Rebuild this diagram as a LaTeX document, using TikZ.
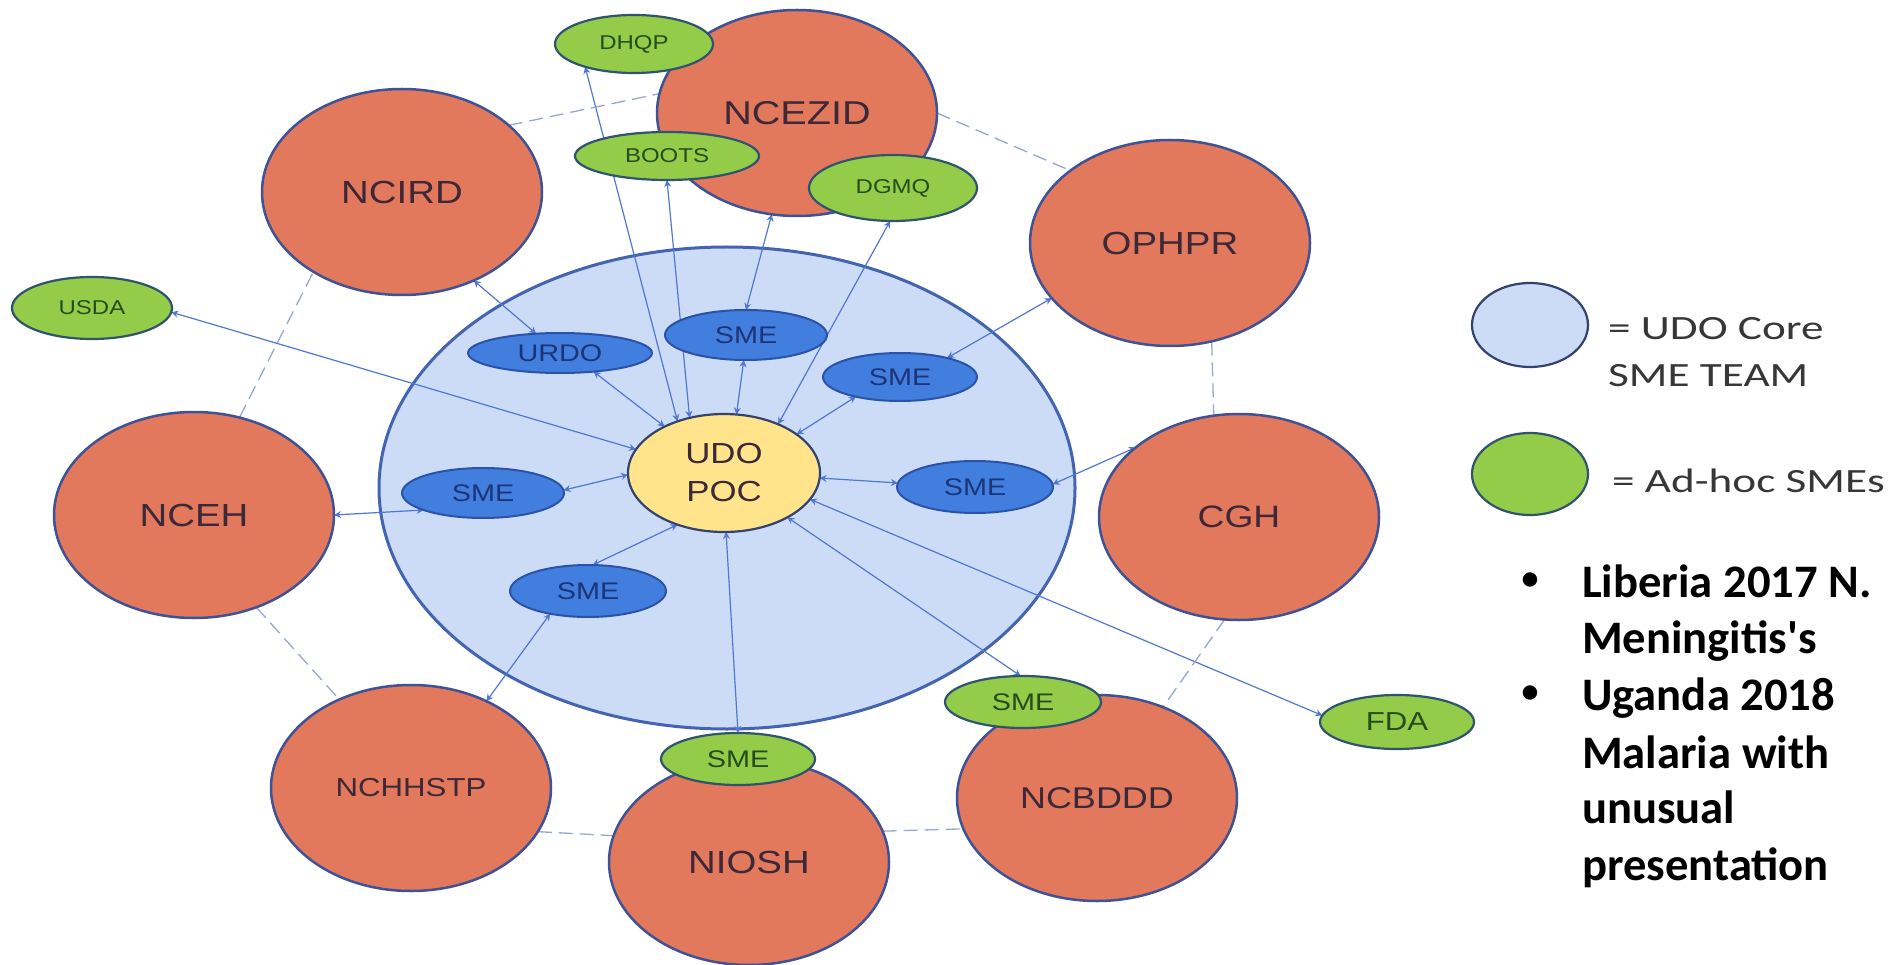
\documentclass[tikz,border=0pt]{standalone}
\usepackage{fontspec}
\setmainfont{Liberation Sans}
\newfontfamily\labf[FakeStretch=1.2]{Liberation Sans}
\newfontfamily\legf[FakeStretch=1.33]{Carlito}
\newfontfamily\bulf{Carlito}
\usetikzlibrary{shapes.geometric,arrows.meta}
\pgfdeclarelayer{bg}
\pgfdeclarelayer{edges}
\pgfsetlayers{bg,edges,main}
\definecolor{orangefill}{RGB}{226,121,92}
\definecolor{orangeline}{RGB}{64,82,150}
\definecolor{greenfill}{RGB}{146,204,72}
\definecolor{greenline}{RGB}{48,84,110}
\definecolor{smefill}{RGB}{66,126,222}
\definecolor{smeline}{RGB}{42,82,168}
\definecolor{corefill}{RGB}{204,220,246}
\definecolor{coreline}{RGB}{68,100,176}
\definecolor{pocfill}{RGB}{255,228,140}
\definecolor{pocline}{RGB}{52,66,110}
\definecolor{arrowc}{RGB}{80,120,210}
\definecolor{dashc}{RGB}{150,168,205}
\definecolor{orangetext}{RGB}{60,40,55}
\definecolor{smetext}{RGB}{28,52,120}
\definecolor{greentext}{RGB}{40,75,30}
\definecolor{legtext}{RGB}{55,55,55}
\newcommand\lsz[1]{\labf\fontsize{#1}{#1}\selectfont}
\tikzset{
  blob/.style={ellipse, inner sep=0pt, outer sep=0pt, align=center},
  center/.style={blob, fill=orangefill, draw=orangeline, line width=2.5pt,
    minimum width=280pt, minimum height=206pt, text=orangetext, font=\lsz{32}},
  adhoc/.style={blob, fill=greenfill, draw=greenline, line width=2.2pt,
    text=greentext, font=\lsz{20}},
  core/.style={blob, fill=smefill, draw=smeline, line width=2pt,
    text=smetext, font=\lsz{24}},
  conn/.style={draw=arrowc, line width=1.2pt,
    {Stealth[length=7pt,width=7pt]}-{Stealth[length=7pt,width=7pt]}},
  peer/.style={draw=dashc, line width=1.3pt, dash pattern=on 14pt off 7pt},
  legtxt/.style={inner sep=0pt, anchor=base west, text=legtext,
    font=\legf\fontsize{34}{38}\selectfont},
  bultxt/.style={inner sep=0pt, anchor=base west, text=black,
    font=\bulf\bfseries\fontsize{46.6}{56}\selectfont},
  bulmark/.style={inner sep=0pt, anchor=center, text=black,
    font=\bulf\bfseries\fontsize{34}{40}\selectfont},
}
\begin{document}
\begin{tikzpicture}[x=1pt,y=-1pt]
\useasboundingbox (0,0) rectangle (1898,965);
\begin{pgfonlayer}{bg}
\fill[white] (0,0) rectangle (1898,965);
\node[blob, fill=corefill, draw=coreline, line width=3pt,
  minimum width=696pt, minimum height=482pt] (core) at (727,488) {};
\end{pgfonlayer}

% centers
\node[center] (ncird) at (402,192) {NCIRD};
\node[center, font=\lsz{33}] (ncezid) at (797,113) {NCEZID};
\node[center] (ophpr) at (1170,243) {OPHPR};
\node[center, font=\lsz{31}] (cgh) at (1239,517) {CGH};
\node[center] (nceh) at (194,515) {NCEH};
\node[center, font=\lsz{26}] (nchhstp) at (411,788) {NCHHSTP};
\node[center] (niosh) at (749,862) {NIOSH};
\node[center, font=\lsz{30}] (ncbddd) at (1097,798) {NCBDDD};

% ad-hoc SMEs
\node[adhoc, minimum width=158pt, minimum height=58pt] (dhqp) at (634,44) {DHQP};
\node[adhoc, minimum width=184pt, minimum height=48pt] (boots) at (667,156) {BOOTS};
\node[adhoc, minimum width=168pt, minimum height=66pt] (dgmq) at (893,188) {DGMQ};
\node[adhoc, minimum width=160pt, minimum height=62pt] (usda) at (92,308) {USDA};
\node[adhoc, minimum width=154pt, minimum height=54pt, font=\lsz{26}] (fda) at (1397,722) {FDA};
\node[adhoc, minimum width=154pt, minimum height=52pt, font=\lsz{24}] (smeg1) at (738,759) {SME};
\node[adhoc, minimum width=156pt, minimum height=52pt, font=\lsz{24}] (smeg2) at (1023,702) {SME};

% core team
\node[core, minimum width=184pt, minimum height=40pt] (urdo) at (560,353) {URDO};
\node[core, minimum width=162pt, minimum height=50pt] (sme1) at (746,335) {SME};
\node[core, minimum width=154pt, minimum height=48pt] (sme2) at (900,377) {SME};
\node[core, minimum width=156pt, minimum height=52pt] (sme3) at (975,487) {SME};
\node[core, minimum width=162pt, minimum height=50pt] (sme4) at (483,493) {SME};
\node[core, minimum width=156pt, minimum height=52pt] (sme5) at (588,591) {SME};
\node[blob, fill=pocfill, draw=pocline, line width=2.2pt, minimum width=192pt,
  minimum height=118pt, text=orangetext, font=\labf\fontsize{29}{38}\selectfont]
  (udo) at (724,473) {UDO\\POC};

\begin{pgfonlayer}{edges}
% solid connectors
\draw[conn] (usda.-3) -- (udo.165);
\draw[conn] (ncird.-51) -- (urdo.141);
\draw[conn] (urdo.-29) -- (udo.142);
\draw[conn] (dhqp.205) -- (udo.132);
\draw[conn] (boots.-90) -- (udo.122);
\draw[conn] (ncezid.-104) -- (sme1.north);
\draw[conn] (dgmq.-95) -- (udo.42);
\draw[conn] (sme1.-95) -- (udo.78);
\draw[conn] (udo.28) -- (sme2.204);
\draw[conn] (sme2.22) -- (ophpr.205);
\draw[conn] (udo.-3) -- (sme3.177);
\draw[conn] (sme3.2) -- (cgh.146);
\draw[conn] (udo.-17) -- (fda.175);
\draw[conn] (udo.-35) -- (smeg2.95);
\draw[conn] (udo.-88) -- (smeg1.north);
\draw[conn] (udo.228) -- (sme5.80);
\draw[conn] (sme5.211) -- (nchhstp.49);
\draw[conn] (sme4.2) -- (udo.181);
\draw[conn] (sme4.196) -- (nceh.east);
% dashed peer links
\draw[peer] (ncird.32) -- (ncezid.172);
\draw[peer] (ncezid.0) -- (ophpr.144);
\draw[peer] (ophpr.-67.5) -- (cgh.104);
\draw[peer] (cgh.262.5) -- (ncbddd.54);
\draw[peer] (niosh.13) -- (ncbddd.193);
\draw[peer] (nchhstp.-19) -- (niosh.169);
\draw[peer] (nceh.-56) -- (nchhstp.129);
\draw[peer] (nceh.65) -- (ncird.222);
\end{pgfonlayer}

% legend
\node[blob, fill=corefill, draw=pocline, line width=2.2pt, minimum width=116pt,
  minimum height=84pt] (lg1) at (1530,325) {};
\node[blob, fill=greenfill, draw=greenline, line width=2.2pt, minimum width=116pt,
  minimum height=82pt] (lg2) at (1530,474) {};
\node[legtxt] (lt1) at (1608,340) {= UDO Core};
\node[legtxt] (lt2) at (1608,387) {SME TEAM};
\node[legtxt] (lt3) at (1612,492) {= Ad-hoc SMEs};

% bullets
\node[bulmark] (bu1) at (1530,581) {\textbullet};
\node[bultxt] (b1a) at (1582,597) {Liberia 2017 N.};
\node[bultxt] (b1b) at (1582,653) {Meningitis\textquotesingle s};
\node[bulmark] (bu2) at (1530,694) {\textbullet};
\node[bultxt] (b2a) at (1582,710) {Uganda 2018};
\node[bultxt] (b2b) at (1582,768) {Malaria with};
\node[bultxt] (b2c) at (1582,823) {unusual};
\node[bultxt] (b2d) at (1582,880) {presentation};
\end{tikzpicture}
\end{document}
